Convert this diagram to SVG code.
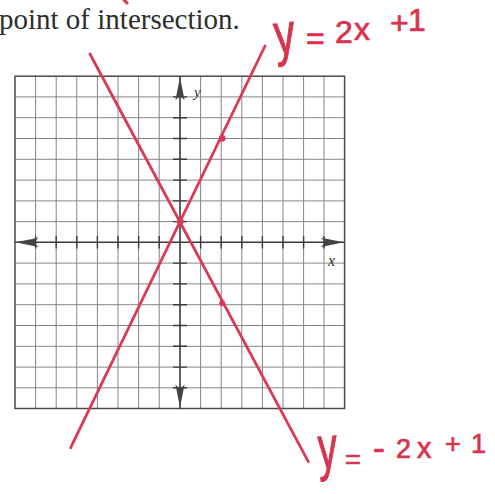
<svg xmlns="http://www.w3.org/2000/svg" width="495" height="494" viewBox="0 0 495 494">
  <style>
    .grid { stroke: #858585; stroke-width: 1; fill: none; }
    .border { stroke: #4a4a4a; stroke-width: 1.5; fill: none; }
    .axis { stroke: #3a3a3a; stroke-width: 1.6; fill: none; }
    .tick { stroke: #3a3a3a; stroke-width: 1.4; fill: none; }
    .arrow { fill: #444; }
    .line { stroke: #d93a55; stroke-width: 2.8; fill: none; stroke-linecap: round; }
    .dot { fill: #d93a55; }
    .hand { fill: #d8344f; stroke: #d8344f; stroke-width: 0.7; font-family: "Liberation Sans", Arial, sans-serif; }
    .label { fill: #333; font-family: "Liberation Serif", "Times New Roman", serif; font-style: italic; }
    .head { fill: #2e2e2e; font-family: "Liberation Serif", "Times New Roman", serif; }
  </style>
  <defs>
    <path id="arrowhead" d="M0,0 L-23,-4.6 L-18.5,0 L-23,4.6 Z"/>
  </defs>
  <rect width="495" height="494" fill="#ffffff"/>

  <g id="header">
    <text class="head" x="-1" y="29" font-size="29">point of intersection.</text>
    <path d="M124,0 L127,3" stroke="#d8344f" stroke-width="3" stroke-linecap="round"/>
  </g>

  <g id="grid">
    <path class="grid" d="M35.6,76.2V408.5 M56.2,76.2V408.5 M76.8,76.2V408.5 M97.4,76.2V408.5 M118,76.2V408.5 M138.6,76.2V408.5 M159.2,76.2V408.5 M200.6,76.2V408.5 M221.2,76.2V408.5 M241.8,76.2V408.5 M262.4,76.2V408.5 M283,76.2V408.5 M303.6,76.2V408.5 M324,76.2V408.5
      M15,96.9H344.6 M15,117.7H344.6 M15,138.5H344.6 M15,159.3H344.6 M15,180.1H344.6 M15,200.9H344.6 M15,221.6H344.6 M15,263.1H344.6 M15,283.9H344.6 M15,304.7H344.6 M15,325.5H344.6 M15,346.3H344.6 M15,367.1H344.6 M15,387.8H344.6"/>
    <rect class="border" x="15" y="76.2" width="329.6" height="332.3"/>
  </g>

  <g id="axes">
    <path class="axis" d="M15,242.3H344.6 M180,76.2V408.5"/>
    <path class="tick" d="M173,96.9H187 M173,117.7H187 M173,138.5H187 M173,159.3H187 M173,180.1H187 M173,200.9H187 M173,221.6H187 M173,263.1H187 M173,283.9H187 M173,304.7H187 M173,325.5H187 M173,346.3H187 M173,367.1H187 M173,387.8H187
      M35.6,236V248.6 M56.2,236V248.6 M76.8,236V248.6 M97.4,236V248.6 M118,236V248.6 M138.6,236V248.6 M159.2,236V248.6 M200.6,236V248.6 M221.2,236V248.6 M241.8,236V248.6 M262.4,236V248.6 M283,236V248.6 M303.6,236V248.6 M324,236V248.6"/>
    <use href="#arrowhead" class="arrow" transform="translate(180,77.2) rotate(-90)"/>
    <use href="#arrowhead" class="arrow" transform="translate(180,407.5) rotate(90)"/>
    <use href="#arrowhead" class="arrow" transform="translate(15.5,242.3) rotate(180)"/>
    <use href="#arrowhead" class="arrow" transform="translate(344,242.3)"/>
    <text class="label" x="194" y="97" font-size="15">y</text>
    <text class="label" x="328" y="266" font-size="16">x</text>
  </g>

  <g id="connectors">
    <path class="line" d="M70.7,447.7 L265,46"/>
    <path class="line" d="M90,54 L308.3,461.7"/>
  </g>

  <g id="points">
    <circle class="dot" cx="180.3" cy="221.6" r="3.4"/>
    <circle class="dot" cx="222.2" cy="138.3" r="3.4"/>
    <circle class="dot" cx="222.2" cy="303.3" r="3"/>
  </g>

  <g id="label-top">
    <text class="hand" font-size="42" transform="translate(276,55) rotate(-6) scale(1,1.4)">y</text>
    <text class="hand" font-size="32" x="306 325 335 354 372 390 408" y="49 47 43 40 38 34 31">= 2x +1</text>
  </g>

  <g id="label-bottom">
    <text class="hand" font-size="38" transform="translate(319,469) rotate(-3) scale(1,1.6)">y</text>
    <text class="hand" font-size="27"><tspan x="345" y="469">=</tspan><tspan x="362" y="468"> </tspan><tspan x="373" y="460" font-size="36">-</tspan><tspan x="396" y="458">2</tspan><tspan x="417" y="458" font-size="29">x</tspan><tspan x="432" y="456"> </tspan><tspan x="445" y="453">+</tspan><tspan x="460" y="453"> </tspan><tspan x="471" y="453">1</tspan></text>
  </g>
</svg>
